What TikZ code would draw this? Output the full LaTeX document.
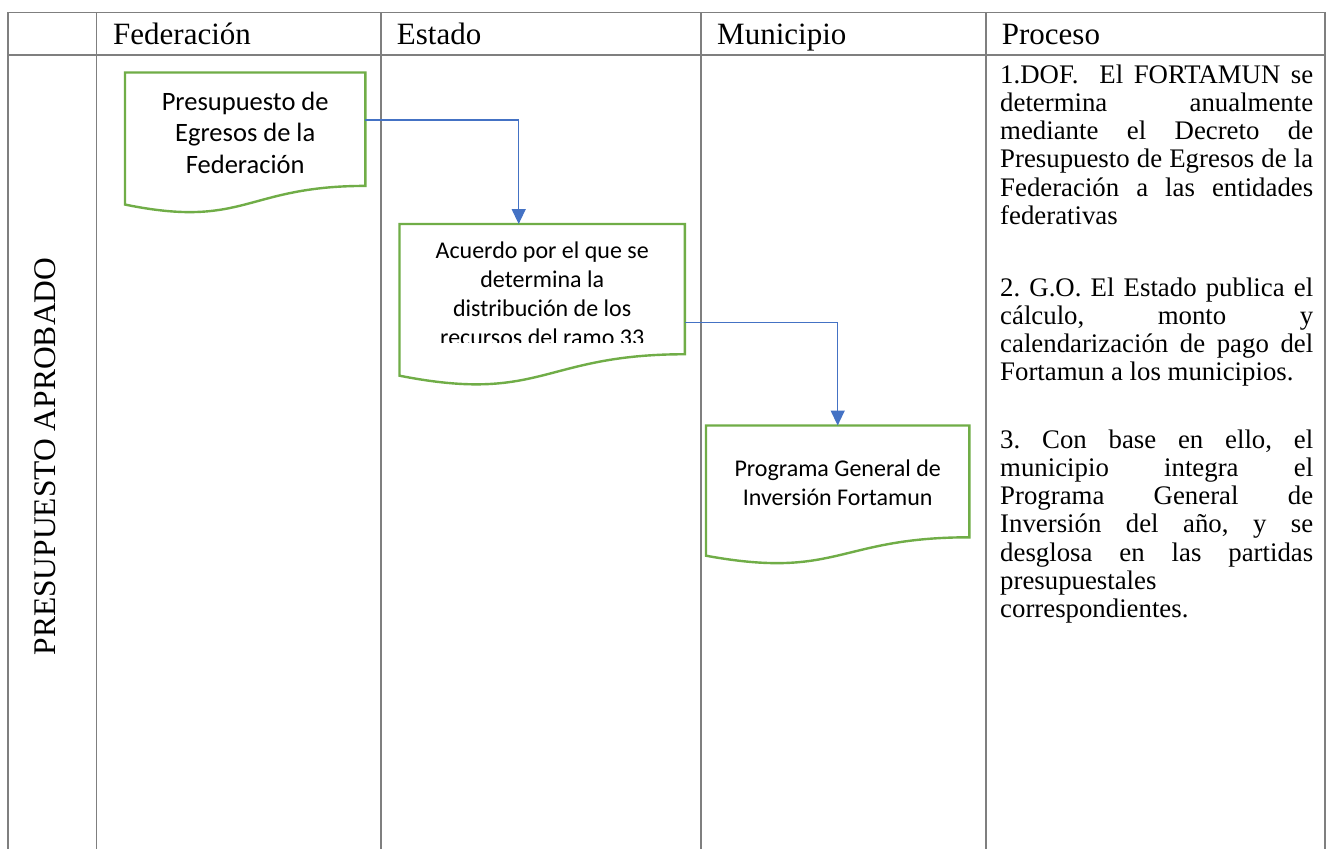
\documentclass[tikz,border=0pt]{standalone}
\usepackage{fontspec}
\setmainfont{Liberation Serif}
\newfontfamily\calibri{Carlito}
\usetikzlibrary{calc,arrows.meta}
\definecolor{gridgray}{HTML}{7F7F7F}
\definecolor{docgreen}{HTML}{70AD47}
\definecolor{connblue}{HTML}{4472C4}
\newcommand{\procsetup}{\frenchspacing\hyphenpenalty=10000\exhyphenpenalty=10000\relax}
\tikzset{
  grid/.style={draw=gridgray,line width=1.1pt},
  docbox/.style={draw=none,rectangle,inner sep=0pt,anchor=north west},
  docline/.style={draw=docgreen,line width=2.4pt,line join=miter},
  doctext/.style={anchor=base,align=center,inner sep=0pt},
  hdr/.style={anchor=base west,inner sep=0pt,font=\fontsize{31}{36}\selectfont},
  proc/.style={anchor=base west,inner sep=0pt,text width=313pt,align=justify,
    font=\fontsize{26.8}{28.2}\selectfont},
  conn/.style={draw=connblue,line width=1.3pt,-{Triangle[length=15pt,width=14pt]}}
}
\newcommand{\docoutline}[1]{%
  \draw[docline] (#1.north west) -- (#1.north east)
    -- ($(#1.north east)!0.802!(#1.south east)$)
    .. controls ($(#1.north)!0.802!(#1.south)$) and ($(#1.north)!1.1075!(#1.south)$)
    .. ($(#1.north west)!0.934!(#1.south west)$) -- cycle;}
\begin{document}
\begin{tikzpicture}[x=1pt,y=-1pt]
\useasboundingbox[fill=white] (0,0) rectangle (1334,849);
% table grid
\coordinate (tl) at (8,12.3);
\coordinate (tr) at (1325,12.3);
\coordinate (hl) at (8,55);
\coordinate (hr) at (1325,55);
\draw[grid] (tl) -- (tr);
\draw[grid] (hl) -- (hr);
\foreach \cx in {8,96.5,381,701,986,1325}{
  \draw[grid] (\cx,12.3) -- (\cx,849);
}
% headers
\node[hdr] (hfed) at (113,44.3) {Federación};
\node[hdr] (hest) at (396.7,44.3) {Estado};
\node[hdr] (hmun) at (717,44.3) {Municipio};
\node[hdr] (hpro) at (1001.7,44.3) {Proceso};
% row label
\node[rotate=90,inner sep=0pt,font=\fontsize{31.5}{36}\selectfont] (rowlab) at (45,456.5) {PRESUPUESTO APROBADO};
% document shapes
\node[docbox,minimum width=240pt,minimum height=141pt] (s1) at (125,72.5) {};
\node[docbox,minimum width=285pt,minimum height=162pt] (s2) at (399.5,224) {};
\node[docbox,minimum width=263pt,minimum height=139pt] (s3) at (706,425.5) {};
\docoutline{s1}
\docoutline{s2}
\docoutline{s3}
% text nodes: base anchor = last line baseline
\node[doctext,font=\calibri\fontsize{26.5}{31.6}\selectfont] (t1) at ([yshift=-100.7pt]s1.north) {Presupuesto de\\Egresos de la\\Federación};
\begin{scope}
\clip (399.5,224) rectangle (684.5,342.5);
\node[doctext,font=\calibri\fontsize{24}{29}\selectfont] (t2) at ([yshift=-121.3pt]s2.north) {Acuerdo por el que se\\determina la\\distribución de los\\recursos del ramo 33};
\end{scope}
\node[doctext,font=\calibri\fontsize{24}{29}\selectfont] (t3) at ([yshift=-79.5pt]s3.north) {Programa General de\\Inversión Fortamun};
% connectors
\draw[conn] ([yshift=-47.5pt]s1.north east) -| ([xshift=-23.5pt]s2.north);
\draw[conn] ([yshift=-98.3pt]s2.north east) -| (s3.north);
% process text
\node[proc] (p1) at (1000,83.3) {\procsetup 1.DOF.\ \ El FORTAMUN se\linebreak determina anualmente\linebreak mediante el Decreto de\linebreak Presupuesto de Egresos de la\linebreak Federación a las entidades\linebreak federativas};
\node[proc] (p2) at (1000,296) {\procsetup 2. G.O. El Estado publica el\linebreak cálculo, monto y\linebreak calendarización de pago del\linebreak Fortamun a los municipios.};
\node[proc] (p3) at (1000,448.3) {\procsetup 3. Con base en ello, el\linebreak municipio integra el\linebreak Programa General de\linebreak Inversión del año, y se\linebreak desglosa en las partidas\linebreak presupuestales\\ correspondientes.};
\end{tikzpicture}
\end{document}
